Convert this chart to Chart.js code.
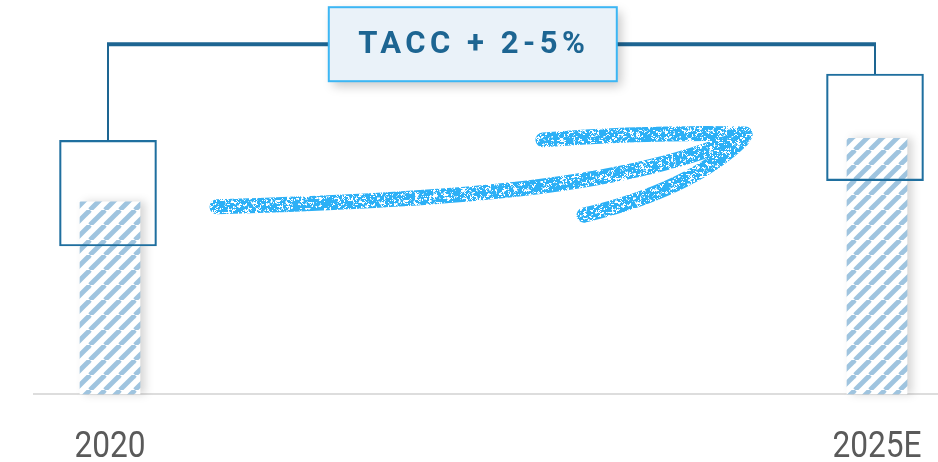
<!DOCTYPE html>
<html>
<head>
<meta charset="utf-8">
<title>TACC 2020 – 2025E</title>
<script src="https://cdn.jsdelivr.net/npm/chart.js@4"></script>
<style>
  html, body { margin: 0; padding: 0; background: #ffffff; }
  #chart { display: block; }
</style>
</head>
<body>
<canvas id="chart" width="938" height="462"></canvas>
<script>
// Years on the category axis
const categories = ['2020', '2025E'];
// Market size (index) shown as hatched bars
const baseValues = [100, 133];
// Estimated range boxes drawn over the bars
const rangeLow = [77, 111];
const rangeHigh = [132, 166.5];
// Height of the bracket joining the two ranges, and its caption
const bracketLevel = 182;
const growthLabel = 'TACC + 2-5%';

const BLUE_DARK = '#1d6592';
const BOX_BLUE = '#1f6f9f';
const HATCH_BLUE = '#9fc4df';
const BOX_SHIFT = -2; // range boxes sit slightly left of the bar centres

// Diagonal hatch used for the bars
function makeHatch() {
  const c = document.createElement('canvas');
  c.width = 15; c.height = 15;
  const g = c.getContext('2d');
  g.fillStyle = '#ffffff';
  g.fillRect(0, 0, 15, 15);
  g.strokeStyle = HATCH_BLUE;
  g.lineWidth = 4.8;
  for (const o of [-15, 0, 15]) {
    g.beginPath();
    g.moveTo(o, 15);
    g.lineTo(o + 15, 0);
    g.stroke();
  }
  return g.createPattern(c, 'repeat');
}

// Grainy chalk texture for the hand-drawn arrow (seeded so it is stable)
function makeChalk(ctx) {
  let s = 98765;
  const rnd = () => {
    s |= 0; s = s + 0x6D2B79F5 | 0;
    let t = Math.imul(s ^ s >>> 15, 1 | s);
    t = t + Math.imul(t ^ t >>> 7, 61 | t) ^ t;
    return ((t ^ t >>> 14) >>> 0) / 4294967296;
  };
  const size = 128, cs = 64;
  const coarse = [];
  for (let i = 0; i < cs * cs; i++) coarse.push(rnd());
  const cAt = (x, y) => coarse[((y + cs) % cs) * cs + ((x + cs) % cs)];
  const c = document.createElement('canvas');
  c.width = size; c.height = size;
  const g = c.getContext('2d');
  const img = g.createImageData(size, size);
  for (let y = 0; y < size; y++) {
    for (let x = 0; x < size; x++) {
      const gx = x / 2, gy = y / 2;
      const x0 = Math.floor(gx), y0 = Math.floor(gy);
      const fx = gx - x0, fy = gy - y0;
      const v = cAt(x0, y0) * (1 - fx) * (1 - fy) + cAt(x0 + 1, y0) * fx * (1 - fy) +
                cAt(x0, y0 + 1) * (1 - fx) * fy + cAt(x0 + 1, y0 + 1) * fx * fy;
      const n = v * 0.6 + rnd() * 0.4;
      const i = (y * size + x) * 4;
      img.data[i] = 44;
      img.data[i + 1] = 176;
      img.data[i + 2] = 246;
      img.data[i + 3] = n > 0.4 ? 255 : (n > 0.34 ? 120 : 0);
    }
  }
  g.putImageData(img, 0, 0);
  return ctx.createPattern(c, 'repeat');
}

const decor = {
  id: 'decor',
  beforeDatasetsDraw(chart) {
    const { ctx, scales: { y }, width } = chart;
    const y0 = y.getPixelForValue(0);
    ctx.save();
    ctx.strokeStyle = '#dddddd';
    ctx.lineWidth = 2;
    ctx.beginPath();
    ctx.moveTo(33, y0);
    ctx.lineTo(width, y0);
    ctx.stroke();
    ctx.restore();
  },
  beforeDatasetDraw(chart, args) {
    const ctx = chart.ctx;
    ctx.save();
    if (args.index === 1) {
      ctx.shadowColor = 'rgba(0,0,0,0.16)';
      ctx.shadowBlur = 8;
      ctx.shadowOffsetX = 5;
      ctx.shadowOffsetY = 0;
    } else {
      ctx.translate(BOX_SHIFT, 0);
    }
  },
  afterDatasetDraw(chart) {
    chart.ctx.restore();
  },
  afterDatasetsDraw(chart) {
    const { ctx, scales: { x, y }, chartArea } = chart;
    const xs = categories.map((c, i) => x.getPixelForValue(i));
    const yb = y.getPixelForValue(bracketLevel);

    // Bracket joining the tops of the two ranges
    ctx.save();
    ctx.strokeStyle = BLUE_DARK;
    ctx.lineWidth = 2;
    xs.forEach((px, i) => {
      ctx.beginPath();
      ctx.moveTo(px + BOX_SHIFT, y.getPixelForValue(rangeHigh[i]));
      ctx.lineTo(px + BOX_SHIFT, yb);
      ctx.stroke();
    });
    ctx.lineWidth = 4;
    ctx.beginPath();
    ctx.moveTo(xs[0] + BOX_SHIFT - 1, yb);
    ctx.lineTo(xs[1] + BOX_SHIFT + 1, yb);
    ctx.stroke();
    ctx.restore();

    // Caption box on the bracket
    const cx = chartArea.left + (chartArea.right - chartArea.left) * 0.473;
    const bw = 288, bh = 74;
    ctx.save();
    ctx.shadowColor = 'rgba(0,0,0,0.22)';
    ctx.shadowBlur = 10;
    ctx.shadowOffsetX = 4;
    ctx.shadowOffsetY = 5;
    ctx.fillStyle = '#eaf2f9';
    ctx.fillRect(cx - bw / 2, yb - bh / 2, bw, bh);
    ctx.restore();
    ctx.save();
    ctx.strokeStyle = '#3cb6f4';
    ctx.lineWidth = 2;
    ctx.strokeRect(cx - bw / 2, yb - bh / 2, bw, bh);
    ctx.fillStyle = BLUE_DARK;
    ctx.font = 'bold 31px Roboto';
    ctx.letterSpacing = '4.5px';
    ctx.textAlign = 'center';
    ctx.textBaseline = 'middle';
    ctx.fillText(growthLabel, cx + 1, yb + 1);
    ctx.restore();

    // Hand-drawn growth arrow
    const W = chartArea.right - chartArea.left, H = chartArea.bottom - chartArea.top;
    const P = (fx, fy) => [chartArea.left + fx * W, chartArea.top + fy * H];
    const chalk = makeChalk(ctx);
    ctx.save();
    ctx.strokeStyle = chalk;
    ctx.lineCap = 'round';
    ctx.lineJoin = 'round';
    const shaft = [P(0.1395, 0.525), P(0.4433, 0.508), P(0.6780, 0.477), P(0.8279, 0.343)];
    const barbTop = [P(0.5645, 0.355), P(0.7040, 0.335), P(0.8279, 0.340)];
    const barbLow = [P(0.6180, 0.546), P(0.7562, 0.482), P(0.8240, 0.355)];
    const strokeCurve = (w) => {
      ctx.lineWidth = w;
      ctx.beginPath();
      ctx.moveTo(...shaft[0]);
      ctx.bezierCurveTo(...shaft[1], ...shaft[2], ...shaft[3]);
      ctx.stroke();
      ctx.beginPath();
      ctx.moveTo(...barbTop[0]);
      ctx.quadraticCurveTo(...barbTop[1], ...barbTop[2]);
      ctx.stroke();
      ctx.beginPath();
      ctx.moveTo(...barbLow[0]);
      ctx.quadraticCurveTo(...barbLow[1], ...barbLow[2]);
      ctx.stroke();
    };
    strokeCurve(15);
    ctx.restore();

    // Category labels under the baseline
    ctx.save();
    ctx.fillStyle = '#5a5a5a';
    ctx.font = '36px Roboto';
    ctx.textAlign = 'center';
    ctx.textBaseline = 'alphabetic';
    categories.forEach((label, i) => {
      ctx.save();
      ctx.translate(xs[i], 457);
      ctx.scale(0.88, 1);
      ctx.fillText(label, 0, 0);
      ctx.restore();
    });
    ctx.restore();
  }
};

const ctx = document.getElementById('chart').getContext('2d');
new Chart(ctx, {
  type: 'bar',
  data: {
    labels: categories,
    datasets: [
      {
        label: 'Range',
        data: categories.map((c, i) => [rangeLow[i], rangeHigh[i]]),
        backgroundColor: 'rgba(255,255,255,0)',
        borderColor: BOX_BLUE,
        borderWidth: 1.5,
        borderSkipped: false,
        barThickness: 97,
        grouped: false,
        clip: false
      },
      {
        label: 'Market',
        data: baseValues,
        backgroundColor: makeHatch(),
        borderWidth: 0,
        barThickness: 60,
        grouped: false,
        clip: false
      }
    ]
  },
  options: {
    responsive: false,
    animation: false,
    devicePixelRatio: 1,
    layout: { padding: { left: 110, right: 61, top: 0, bottom: 68 } },
    plugins: { legend: { display: false }, tooltip: { enabled: false } },
    scales: {
      x: { type: 'category', offset: false, display: false },
      y: { display: false, min: 0, max: 205 }
    }
  },
  plugins: [decor]
});
</script>
</body>
</html>
